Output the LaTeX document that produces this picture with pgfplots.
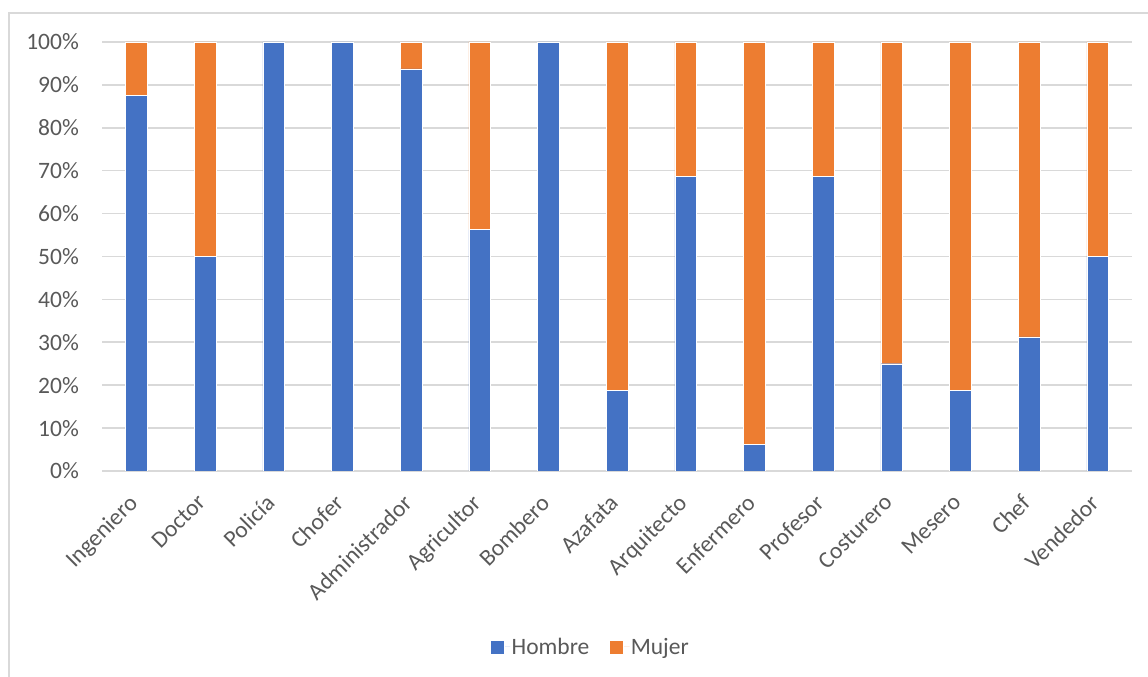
\documentclass[border=0pt]{standalone}
\usepackage{pgfplots}
\pgfplotsset{compat=1.18}
\usepackage{fontspec}
\setmainfont{Carlito}
\definecolor{hblue}{HTML}{4472C4}
\definecolor{morange}{HTML}{ED7D31}
\definecolor{gridgray}{HTML}{D9D9D9}
\definecolor{txtgray}{HTML}{595959}
\pgfplotstableread{
x h m
0 87.5 12.5
1 50 50
2 100 0
3 100 0
4 93.75 6.25
5 56.25 43.75
6 100 0
7 18.75 81.25
8 68.75 31.25
9 6.25 93.75
10 68.75 31.25
11 25 75
12 18.75 81.25
13 31.25 68.75
14 50 50
}\datatable
\begin{document}
\begin{tikzpicture}[x=1pt,y=1pt]
\path[use as bounding box] (0,0) rectangle (1148,677);
\draw[gridgray, line width=1.5pt] (9,-5) -- (9,664) -- (1160,664);
\begin{axis}[
  at={(102pt,206pt)}, anchor=south west,
  scale only axis, width=1030pt, height=429pt,
  xmin=-0.5, xmax=14.5, ymin=0, ymax=100,
  ybar stacked, bar width=21.5pt,
  axis line style={draw=none},
  major tick length=0pt,
  ymajorgrids, grid style={gridgray, line width=1.6pt},
  ytick={0,10,...,100},
  yticklabels={0\%,10\%,20\%,30\%,40\%,50\%,60\%,70\%,80\%,90\%,100\%},
  xtick={0,...,14},
  xticklabels={Ingeniero,Doctor,Policía,Chofer,Administrador,Agricultor,Bombero,Azafata,Arquitecto,Enfermero,Profesor,Costurero,Mesero,Chef,Vendedor},
  tick label style={font=\fontsize{23.5pt}{28pt}\selectfont, text=txtgray},
  yticklabel style={anchor=east, inner sep=0pt, xshift=-23pt},
  xticklabel style={xshift=-9pt, yshift=-22pt, rotate=45, anchor=north east, inner sep=0pt},
  legend style={at={(axis description cs:0.4738,-0.410)}, anchor=center, draw=none, fill=none,
    font=\fontsize{23.5pt}{28pt}\selectfont, text=txtgray,
    /tikz/every even column/.append style={column sep=19pt},
    nodes={inner sep=1pt, anchor=west}},
  legend columns=2,
  legend image code/.code={\path (0pt,0pt) -- (20pt,0pt); \fill[#1] (0pt,-7pt) rectangle (14pt,7pt);},
]
\addplot[fill=hblue, draw=white, line width=0.4pt] table[x=x,y=h]{\datatable};
\addplot[fill=morange, draw=white, line width=0.4pt] table[x=x,y=m]{\datatable};
\legend{Hombre,Mujer}
\end{axis}
\end{tikzpicture}
\end{document}
